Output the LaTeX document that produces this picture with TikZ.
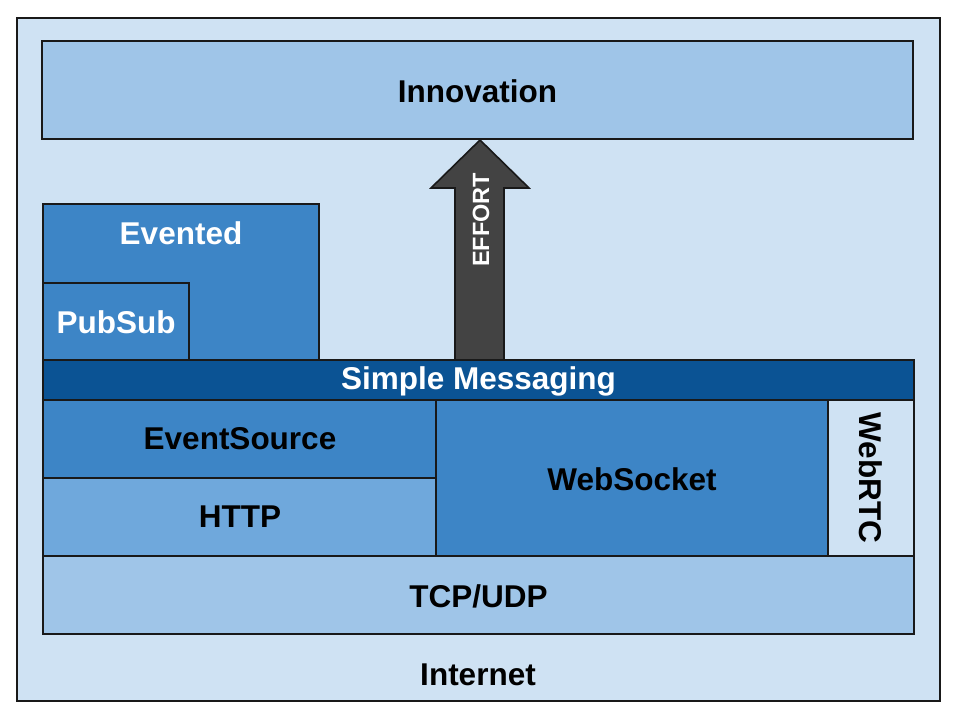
\documentclass[tikz,border=0pt]{standalone}
\usepackage{fontspec}
\setmainfont{Liberation Sans}
\definecolor{paleblue}{HTML}{CFE2F3}
\definecolor{lightblue}{HTML}{9FC5E8}
\definecolor{midblue}{HTML}{6FA8DC}
\definecolor{blue}{HTML}{3D85C6}
\definecolor{deepblue}{HTML}{0B5394}
\definecolor{arrowgrey}{HTML}{434343}
\begin{document}
\begin{tikzpicture}[x=1bp,y=-1bp,
  layer/.style={draw=black!90, line width=1.6bp, inner sep=0pt, outer sep=0pt},
  lbl/.style={font=\bfseries\fontsize{31.5bp}{36bp}\selectfont, inner sep=0pt}]
  \useasboundingbox (0,0) rectangle (960,720);
  % outer frame: the Internet
  \draw[layer, fill=paleblue] (17,18) rectangle (940,701);
  \node[lbl] (internet) at (478,675) {Internet};
  % top box
  \draw[layer, fill=lightblue] (42,41) rectangle (913,139);
  \node[lbl] (innovation) at (477.5,91) {Innovation};
  % evented stack
  \draw[layer, fill=blue] (43,204) rectangle (319,360);
  \node[lbl, text=white] (evented) at (181,233) {Evented};
  \draw[layer, fill=blue] (43,283) rectangle (189,360);
  \node[lbl, text=white] (pubsub) at (116,322) {PubSub};
  % messaging band
  \draw[layer, fill=deepblue] (43,360) rectangle (914,400);
  \node[lbl, text=white] (messaging) at (478.5,381) {Simple Messaging};
  % transports
  \draw[layer, fill=blue] (43,400) rectangle (436,478);
  \node[lbl] (eventsource) at (240,439) {EventSource};
  \draw[layer, fill=midblue] (43,478) rectangle (436,556);
  \node[lbl] (http) at (240,517) {HTTP};
  \draw[layer, fill=blue] (436,400) rectangle (828,556);
  \node[lbl] (websocket) at (632,479) {WebSocket};
  \draw[layer, fill=paleblue] (828,400) rectangle (914,556);
  \node[lbl, rotate=-90] (webrtc) at (871,478) {WebRTC};
  % base protocol
  \draw[layer, fill=lightblue] (43,556) rectangle (914,634);
  \node[lbl] (tcpudp) at (478.5,596) {TCP/UDP};
  % effort arrow
  \draw[layer, fill=arrowgrey, line join=miter]
    (455,360) -- (455,188) -- (431,188) -- (480,140) -- (529,188)
    -- (504,188) -- (504,360) -- cycle;
  \node[font=\bfseries\fontsize{23.5bp}{28bp}\selectfont, text=white,
        rotate=90, inner sep=0pt] (effort) at (481,220) {EFFORT};
\end{tikzpicture}
\end{document}
